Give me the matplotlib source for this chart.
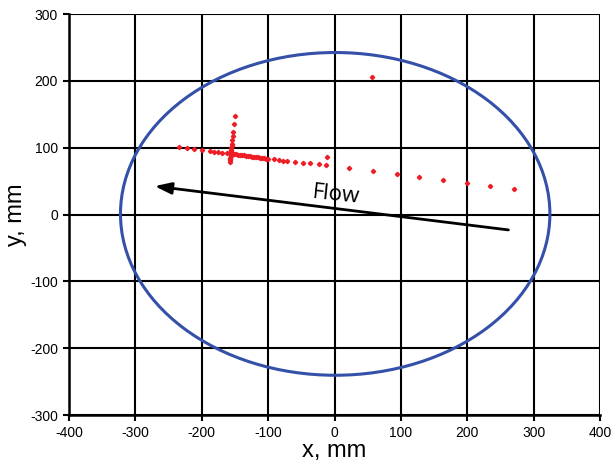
import matplotlib
matplotlib.use("Agg")
import matplotlib.pyplot as plt
from matplotlib.patches import Ellipse

plt.rcParams["font.family"] = ["Liberation Sans", "DejaVu Sans"]
plt.rcParams["axes.unicode_minus"] = False

# measured points (mm)
pts_x = [-235, -222, -211, -199, -187, -181, -175, -169, -162.5,
         # vertical streak
         -150, -151.5, -153, -153.5, -154, -154.5, -155, -155.5, -155.5, -156, -156, -156.5, -156.5, -157, -157, -157, -157,
         # dense horizontal streak
         -157, -154, -151, -148, -145, -142, -139, -136, -133, -130, -127, -124, -121, -118, -115, -112, -109, -106, -103, -100,
         -91.5, -84, -78, -71.5, -60, -48, -36.5, -24, -12.5, -11.5,
         22.5, 58.5, 93.5, 128, 164, 199, 234.5, 270.5, 56]
pts_y = [101, 99, 97.5, 96, 95, 94, 93.5, 92.5, 91.5,
         148, 135, 124, 117, 111, 106, 102, 99, 97, 95, 93, 89, 87, 85, 83, 81, 79,
         91.5, 91, 90.5, 90, 89.6, 89.2, 88.8, 88.4, 88, 87.6, 87.2, 86.8, 86.4, 86, 85.5, 85, 84.5, 84, 83.5, 83,
         82.5, 81.5, 80.5, 80.5, 79, 77.5, 76.5, 75, 73.5, 85.5,
         69, 65, 60, 55.5, 51.5, 47, 42.5, 38, 206]

# pipe cross-section
ell_center = (1, 1)
ell_width = 647
ell_height = 483

# flow arrow, tail -> head
arrow_tail = (262, -23)
arrow_head = (-271, 42.5)

fig = plt.figure(figsize=(6.11, 4.70), dpi=100)
ax = fig.add_axes([0.113, 0.117, 0.869, 0.853])

ax.set_xlim(-400, 400)
ax.set_ylim(-300, 300)
ax.set_xticks(range(-400, 401, 100))
ax.set_yticks(range(-300, 301, 100))
ax.grid(True, color="black", linewidth=1.5)
ax.set_axisbelow(True)
for side in ["top", "right"]:
    ax.spines[side].set_visible(False)
for side in ["left", "bottom"]:
    ax.spines[side].set_linewidth(1.8)
ax.tick_params(direction="out", length=4, width=1.5, labelsize=10, pad=4)

ax.add_patch(Ellipse(ell_center, ell_width, ell_height, fill=False,
                     edgecolor="#3450a8", linewidth=2.2, zorder=3))

ax.plot(pts_x, pts_y, linestyle="none", marker="D", markersize=2.2,
        color="#ee1c25", zorder=4)

ax.annotate("", xy=arrow_head, xytext=arrow_tail,
            arrowprops=dict(arrowstyle="-|>,head_length=1.0,head_width=0.35",
                            color="black", linewidth=2, shrinkA=0, shrinkB=0),
            zorder=5)
ax.text(3, 29, "Flow", fontsize=16, rotation=-6, ha="center", va="center",
        family=["Open Sans", "DejaVu Sans"], zorder=5)

ax.set_xlabel("x, mm", fontsize=17, labelpad=0)
ax.set_ylabel("y, mm", fontsize=17, labelpad=2)

fig.savefig("out.png", dpi=100)
